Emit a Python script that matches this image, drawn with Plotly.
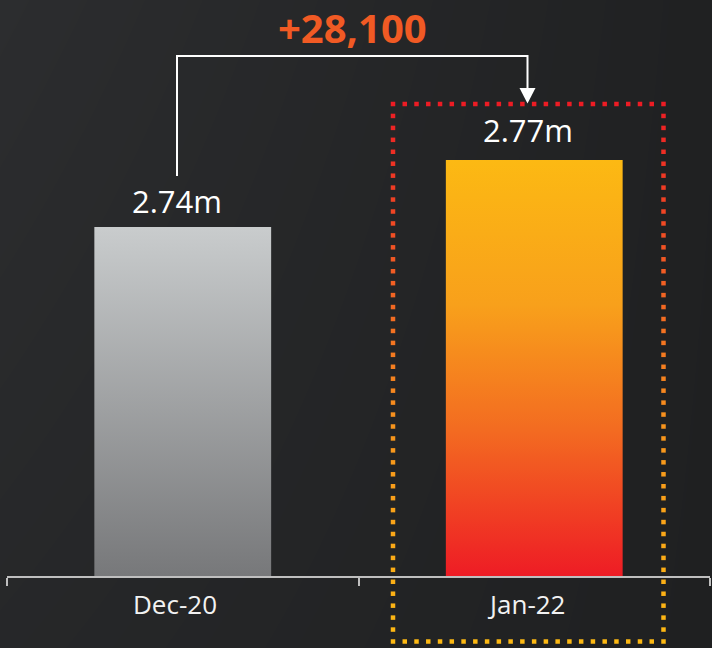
import plotly.graph_objects as go

# ---------------- data ----------------
categories = ["Dec-20", "Jan-22"]
values = [2.742, 2.7701]          # population, millions
value_labels = ["2.74m", "2.77m"]
change_label = "+28,100"

# ---------------- style ----------------
W, H = 712, 648
FONT = "Open Sans"
y_min, y_max = 2.5956, 2.8372
bar_half = 0.2515
label_shift = [3, 7]

bar_scales = [
    [[0, "#77787a"], [1, "#c9cccd"]],
    [[0, "#ee1c25"], [0.35, "#f36b21"], [0.65, "#f8a01b"], [1, "#fcb913"]],
]
box_scale = [[0, "#ed1c24"], [0.3, "#f15a24"], [0.6, "#f7941d"], [1, "#fdb913"]]

fig = go.Figure()

# background gradient (full-figure subplot)
fig.add_trace(go.Heatmap(
    z=[[0.55, 0.0], [1.0, 0.05]], x=[0, 1], y=[0, 1], zsmooth="best",
    colorscale=[[0, "#1f2021"], [1, "#2c2d2f"]], showscale=False,
    hoverinfo="skip", xaxis="x", yaxis="y"))

# bars with vertical gradients
for i, (v, cs) in enumerate(zip(values, bar_scales)):
    fig.add_trace(go.Scatter(
        x=[i - bar_half, i + bar_half, i + bar_half, i - bar_half, i - bar_half],
        y=[y_min, y_min, v, v, y_min],
        fill="toself", mode="lines", line=dict(width=0),
        fillcolor=cs[-1][1],
        fillgradient=dict(type="vertical", colorscale=cs),
        hoverinfo="skip", xaxis="x2", yaxis="y2"))

# dotted gradient box (pixel overlay)
bx0, bx1, by0, by1 = 393, 663.5, 104, 641.5
step = 12
pts = []
def edge(xa, ya, xb, yb):
    L = ((xb - xa) ** 2 + (yb - ya) ** 2) ** 0.5
    n = max(1, round(L / step))
    for k in range(n):
        pts.append((xa + (xb - xa) * k / n, ya + (yb - ya) * k / n))
edge(bx0, by0, bx1, by0)
edge(bx1, by0, bx1, by1)
edge(bx1, by1, bx0, by1)
edge(bx0, by1, bx0, by0)
dx = [p[0] for p in pts]
dy = [p[1] for p in pts]
dc = [(p[1] - by0) / (by1 - by0) for p in pts]
fig.add_trace(go.Scatter(
    x=dx, y=dy, mode="markers", cliponaxis=False,
    marker=dict(symbol="square", size=4.5, color=dc, colorscale=box_scale,
                cmin=0, cmax=1, line=dict(width=0)),
    hoverinfo="skip", xaxis="x3", yaxis="y3"))

# connector with arrow
fig.add_shape(type="path", xref="x3", yref="y3",
              path="M177,176 V56 H527.5 V92",
              line=dict(color="#ffffff", width=2), layer="above")
fig.add_shape(type="path", xref="x3", yref="y3",
              path="M519.5,88 L535.5,88 L527.5,103.5 Z",
              line=dict(color="#ffffff", width=0), fillcolor="#ffffff", layer="above")

annotations = []
annotations.append(dict(
    text="<b>" + change_label + "</b>", xref="x3", yref="y3", x=352, y=27,
    showarrow=False, xanchor="center", yanchor="middle",
    font=dict(family=FONT, size=40, color="#f15a24")))
for i, (v, t) in enumerate(zip(values, value_labels)):
    annotations.append(dict(
        text=t, xref="x2", yref="y2", x=i, y=v, showarrow=False,
        xanchor="center", yanchor="bottom", yshift=label_shift[i], xshift=-6,
        font=dict(family=FONT, size=31, color="#ffffff")))
for i, c in enumerate(categories):
    annotations.append(dict(
        text=c, xref="x2", yref="y3", x=i, y=604, showarrow=False,
        xanchor="center", yanchor="middle", xshift=-8,
        font=dict(family=FONT, size=26, color="#f2f2f2")))

fig.update_layout(
    width=W, height=H, autosize=False,
    margin=dict(l=0, r=0, t=0, b=0),
    paper_bgcolor="#242527", plot_bgcolor="rgba(0,0,0,0)",
    showlegend=False, annotations=annotations,
    xaxis=dict(domain=[0, 1], range=[0, 1], visible=False, fixedrange=True),
    yaxis=dict(domain=[0, 1], range=[0, 1], visible=False, fixedrange=True),
    xaxis2=dict(domain=[7 / W, 710 / W], range=[-0.5, 1.5], anchor="y2",
                tickvals=[-0.5, 0.5, 1.5], ticktext=["", "", ""],
                ticks="outside", ticklen=8, tickwidth=2, tickcolor="#bfbfbf",
                showline=True, linecolor="#bfbfbf", linewidth=2,
                showgrid=False, zeroline=False, fixedrange=True),
    yaxis2=dict(domain=[72 / H, 1], range=[y_min, y_max], anchor="x2",
                visible=False, fixedrange=True),
    xaxis3=dict(domain=[0, 1], range=[0, W], anchor="y3", visible=False, fixedrange=True),
    yaxis3=dict(domain=[0, 1], range=[H, 0], anchor="x3", visible=False, fixedrange=True),
)

fig.write_html("out.html")
